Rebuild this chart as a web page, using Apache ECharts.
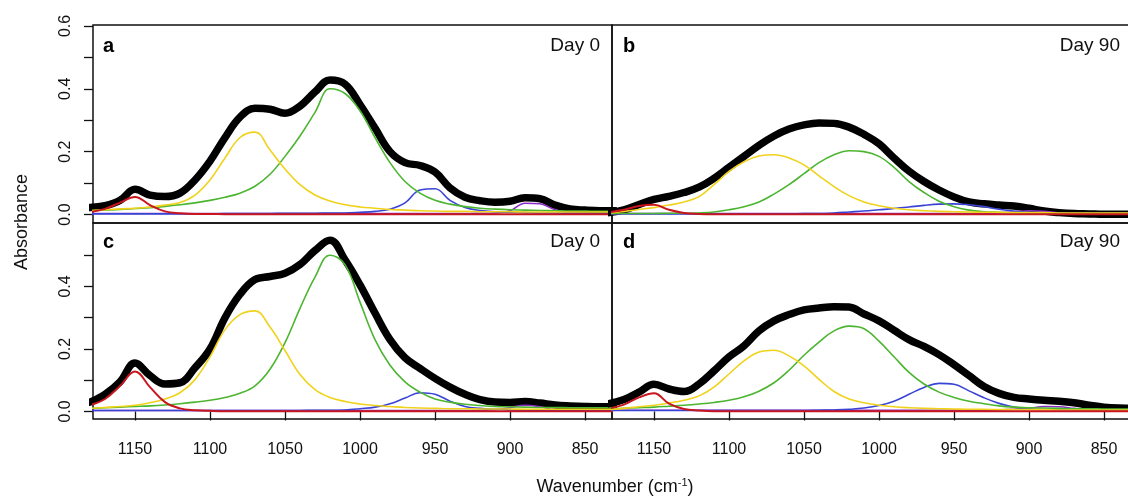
<!DOCTYPE html>
<html>
<head>
<meta charset="utf-8">
<script src="https://cdn.jsdelivr.net/npm/echarts@6/dist/echarts.min.js"></script>
<style>
  html, body { margin: 0; padding: 0; background: #fff; overflow: hidden; }
  #chart { width: 1136px; height: 497px; }
</style>
</head>
<body>
<div id="chart"></div>
<script>
// wavenumber grid (cm-1), shared by every curve
var wavenumber = [1180, 1170, 1160, 1150, 1140, 1130, 1120, 1110, 1100, 1090, 1080, 1070,
  1060, 1050, 1040, 1030, 1020, 1010, 1000, 990, 980, 970, 960, 950,
  940, 930, 920, 910, 900, 890, 880, 870, 860, 850, 840, 830]

var xTicks = [1150, 1100, 1050, 1000, 950, 900, 850]
var yTicksTop = [0, 0.1, 0.2, 0.3, 0.4, 0.5, 0.6]
var yLabelsTop = [0, 0.2, 0.4, 0.6]
var yTicksBottom = [0, 0.1, 0.2, 0.3, 0.4, 0.5]
var yLabelsBottom = [0, 0.2, 0.4]

// panel a - Day 0
var aBlack = [0.022, 0.028, 0.045, 0.08, 0.062, 0.057, 0.068, 0.11, 0.17, 0.245, 0.31, 0.338,
  0.335, 0.322, 0.345, 0.39, 0.428, 0.415, 0.35, 0.275, 0.2, 0.165, 0.156, 0.135,
  0.085, 0.055, 0.044, 0.039, 0.042, 0.053, 0.05, 0.03, 0.018, 0.014, 0.012, 0.012]
var aRed = [0.008, 0.018, 0.038, 0.056, 0.03, 0.01, 0.004, 0.002, 0.002, 0.001, 0.001, 0.001,
  0.001, 0.001, 0.001, 0.001, 0.001, 0.001, 0.001, 0.001, 0.001, 0.001, 0.001, 0.001,
  0.001, 0.001, 0.001, 0.001, 0.001, 0.001, 0.001, 0.001, 0.001, 0.001, 0.001, 0.001]
var aYellow = [0.012, 0.015, 0.018, 0.02, 0.024, 0.03, 0.038, 0.062, 0.11, 0.18, 0.245, 0.262,
  0.205, 0.145, 0.095, 0.062, 0.043, 0.031, 0.024, 0.02, 0.016, 0.014, 0.012, 0.011,
  0.01, 0.01, 0.009, 0.009, 0.009, 0.008, 0.008, 0.008, 0.008, 0.008, 0.008, 0.008]
var aGreen = [0.012, 0.014, 0.016, 0.019, 0.022, 0.026, 0.031, 0.037, 0.045, 0.055, 0.068, 0.09,
  0.128, 0.185, 0.25, 0.325, 0.4, 0.385, 0.33, 0.245, 0.165, 0.105, 0.068, 0.045,
  0.033, 0.025, 0.02, 0.017, 0.015, 0.014, 0.013, 0.012, 0.011, 0.011, 0.01, 0.01]
var aBlue = [0.002, 0.002, 0.002, 0.002, 0.002, 0.002, 0.002, 0.002, 0.002, 0.003, 0.003, 0.003,
  0.003, 0.004, 0.004, 0.004, 0.005, 0.005, 0.007, 0.01, 0.017, 0.037, 0.078, 0.082,
  0.045, 0.022, 0.013, 0.009, 0.007, 0.006, 0.005, 0.005, 0.004, 0.004, 0.004, 0.004]
var aPurple = [0.003, 0.003, 0.003, 0.003, 0.003, 0.003, 0.003, 0.003, 0.003, 0.003, 0.003, 0.003,
  0.003, 0.003, 0.003, 0.003, 0.003, 0.003, 0.003, 0.003, 0.003, 0.003, 0.003, 0.003,
  0.003, 0.003, 0.004, 0.005, 0.012, 0.036, 0.034, 0.015, 0.006, 0.004, 0.003, 0.003]

// panel b - Day 90
var bBlack = [0.006, 0.015, 0.032, 0.048, 0.058, 0.07, 0.087, 0.115, 0.15, 0.185, 0.22, 0.25,
  0.272, 0.285, 0.291, 0.29, 0.278, 0.255, 0.225, 0.18, 0.138, 0.105, 0.078, 0.056,
  0.04, 0.034, 0.03, 0.027, 0.02, 0.011, 0.006, 0.003, 0.002, 0.001, 0.001, 0.001]
var bRed = [0.007, 0.015, 0.027, 0.031, 0.015, 0.005, 0.002, 0.001, 0.001, 0.001, 0.001, 0.001,
  0.001, 0.001, 0.001, 0.001, 0.001, 0.001, 0.001, 0.001, 0.001, 0.001, 0.001, 0.001,
  0.001, 0.001, 0.001, 0.001, 0.001, 0.001, 0.001, 0.001, 0.001, 0.001, 0.001, 0.001]
var bYellow = [0.004, 0.01, 0.016, 0.022, 0.03, 0.04, 0.057, 0.095, 0.137, 0.168, 0.186, 0.19,
  0.18, 0.158, 0.123, 0.089, 0.06, 0.04, 0.028, 0.02, 0.015, 0.012, 0.01, 0.009,
  0.008, 0.007, 0.007, 0.006, 0.006, 0.006, 0.005, 0.005, 0.005, 0.005, 0.005, 0.005]
var bGreen = [0.003, 0.003, 0.003, 0.003, 0.004, 0.004, 0.005, 0.008, 0.015, 0.025, 0.04, 0.065,
  0.095, 0.13, 0.165, 0.19, 0.203, 0.2, 0.185, 0.15, 0.105, 0.07, 0.042, 0.025,
  0.014, 0.009, 0.007, 0.005, 0.004, 0.004, 0.003, 0.003, 0.003, 0.003, 0.003, 0.003]
var bBlue = [0.002, 0.002, 0.002, 0.002, 0.002, 0.002, 0.002, 0.002, 0.002, 0.002, 0.002, 0.002,
  0.002, 0.003, 0.003, 0.005, 0.008, 0.011, 0.015, 0.019, 0.024, 0.029, 0.033, 0.034,
  0.031, 0.025, 0.017, 0.011, 0.007, 0.005, 0.004, 0.003, 0.003, 0.003, 0.003, 0.003]
var bPurple = [0.003, 0.003, 0.003, 0.003, 0.003, 0.003, 0.003, 0.003, 0.003, 0.003, 0.003, 0.003,
  0.003, 0.003, 0.003, 0.003, 0.003, 0.003, 0.003, 0.003, 0.003, 0.003, 0.003, 0.003,
  0.003, 0.004, 0.005, 0.008, 0.012, 0.01, 0.005, 0.003, 0.003, 0.003, 0.003, 0.003]

// panel c - Day 0
var cBlack = [0.03, 0.055, 0.095, 0.155, 0.115, 0.088, 0.092, 0.14, 0.2, 0.3, 0.375, 0.422,
  0.432, 0.442, 0.47, 0.515, 0.548, 0.485, 0.405, 0.315, 0.23, 0.172, 0.138, 0.106,
  0.078, 0.055, 0.038, 0.03, 0.029, 0.032, 0.027, 0.021, 0.018, 0.016, 0.015, 0.015]
var cRed = [0.02, 0.04, 0.082, 0.128, 0.078, 0.03, 0.01, 0.004, 0.002, 0.001, 0.001, 0.001,
  0.001, 0.001, 0.001, 0.001, 0.001, 0.001, 0.001, 0.001, 0.001, 0.001, 0.001, 0.001,
  0.001, 0.001, 0.001, 0.001, 0.001, 0.001, 0.001, 0.001, 0.001, 0.001, 0.001, 0.001]
var cYellow = [0.01, 0.013, 0.016, 0.02, 0.028, 0.04, 0.06, 0.102, 0.175, 0.262, 0.31, 0.322,
  0.27, 0.195, 0.118, 0.07, 0.045, 0.032, 0.024, 0.019, 0.016, 0.013, 0.011, 0.01,
  0.009, 0.009, 0.008, 0.008, 0.008, 0.007, 0.007, 0.007, 0.007, 0.007, 0.007, 0.007]
var cGreen = [0.01, 0.012, 0.014, 0.016, 0.018, 0.021, 0.025, 0.03, 0.036, 0.045, 0.058, 0.082,
  0.135, 0.22, 0.33, 0.43, 0.5, 0.47, 0.35, 0.23, 0.148, 0.095, 0.062, 0.04,
  0.03, 0.023, 0.019, 0.016, 0.015, 0.014, 0.013, 0.013, 0.012, 0.012, 0.012, 0.012]
var cBlue = [0.003, 0.003, 0.003, 0.003, 0.003, 0.003, 0.003, 0.003, 0.003, 0.003, 0.003, 0.003,
  0.003, 0.003, 0.003, 0.004, 0.004, 0.005, 0.009, 0.014, 0.025, 0.043, 0.06, 0.055,
  0.033, 0.016, 0.01, 0.007, 0.005, 0.004, 0.004, 0.004, 0.004, 0.004, 0.004, 0.004]
var cPurple = [0.003, 0.003, 0.003, 0.003, 0.003, 0.003, 0.003, 0.003, 0.003, 0.003, 0.003, 0.003,
  0.003, 0.003, 0.003, 0.003, 0.003, 0.003, 0.003, 0.003, 0.003, 0.003, 0.003, 0.003,
  0.003, 0.003, 0.004, 0.006, 0.012, 0.02, 0.015, 0.006, 0.004, 0.003, 0.003, 0.003]

// panel d - Day 90
var dBlack = [0.025, 0.038, 0.062, 0.087, 0.072, 0.064, 0.088, 0.13, 0.175, 0.21, 0.258, 0.29,
  0.31, 0.325, 0.331, 0.335, 0.334, 0.312, 0.29, 0.26, 0.23, 0.208, 0.182, 0.15,
  0.115, 0.08, 0.058, 0.045, 0.04, 0.036, 0.033, 0.028, 0.02, 0.014, 0.011, 0.01]
var dRed = [0.01, 0.022, 0.045, 0.058, 0.025, 0.008, 0.003, 0.001, 0.001, 0.001, 0.001, 0.001,
  0.001, 0.001, 0.001, 0.001, 0.001, 0.001, 0.001, 0.001, 0.001, 0.001, 0.001, 0.001,
  0.001, 0.001, 0.001, 0.001, 0.001, 0.001, 0.001, 0.001, 0.001, 0.001, 0.001, 0.001]
var dYellow = [0.006, 0.01, 0.015, 0.02, 0.027, 0.036, 0.05, 0.078, 0.12, 0.162, 0.19, 0.196,
  0.178, 0.146, 0.103, 0.064, 0.04, 0.028, 0.02, 0.015, 0.012, 0.01, 0.009, 0.008,
  0.007, 0.007, 0.006, 0.006, 0.006, 0.006, 0.005, 0.005, 0.005, 0.005, 0.005, 0.005]
var dGreen = [0.008, 0.01, 0.012, 0.014, 0.017, 0.02, 0.024, 0.029, 0.036, 0.047, 0.065, 0.092,
  0.132, 0.18, 0.222, 0.258, 0.273, 0.265, 0.225, 0.175, 0.125, 0.088, 0.062, 0.045,
  0.033, 0.025, 0.018, 0.014, 0.012, 0.011, 0.01, 0.009, 0.009, 0.008, 0.008, 0.008]
var dBlue = [0.003, 0.003, 0.003, 0.003, 0.003, 0.003, 0.003, 0.003, 0.003, 0.003, 0.003, 0.003,
  0.003, 0.003, 0.004, 0.005, 0.007, 0.011, 0.019, 0.033, 0.055, 0.077, 0.09, 0.087,
  0.066, 0.044, 0.026, 0.014, 0.008, 0.007, 0.006, 0.005, 0.005, 0.005, 0.005, 0.005]
var dPurple = [0.004, 0.004, 0.004, 0.004, 0.004, 0.004, 0.004, 0.004, 0.004, 0.004, 0.004, 0.004,
  0.004, 0.004, 0.004, 0.004, 0.004, 0.004, 0.004, 0.004, 0.004, 0.004, 0.004, 0.004,
  0.004, 0.004, 0.005, 0.007, 0.01, 0.016, 0.015, 0.01, 0.005, 0.004, 0.004, 0.004]

var panels = [
  { letter: 'a', day: 'Day 0', curves: [aBlack, aPurple, aBlue, aGreen, aYellow, aRed] },
  { letter: 'b', day: 'Day 90', curves: [bBlack, bPurple, bBlue, bGreen, bYellow, bRed] },
  { letter: 'c', day: 'Day 0', curves: [cBlack, cPurple, cBlue, cGreen, cYellow, cRed] },
  { letter: 'd', day: 'Day 90', curves: [dBlack, dPurple, dBlue, dGreen, dYellow, dRed] }
]
var curveColors = ['#000000', '#8a2cc8', '#3a44d4', '#4cb530', '#f0d21a', '#c8161e']
var curveWidths = [7.5, 1.6, 1.6, 1.6, 1.6, 2]

var FONT = 'Liberation Sans, Arial, Helvetica, sans-serif'
var myChart = echarts.init(document.getElementById('chart'))

// grid boxes: left column / right column, top row / bottom row
// (right column runs a few px past the 1128 px window, as in the source figure)
var gridBoxes = [
  { left: 93, top: 25, width: 519, height: 198 },
  { left: 612, top: 25, width: 519, height: 198 },
  { left: 93, top: 223, width: 519, height: 196 },
  { left: 612, top: 223, width: 519, height: 196 }
]

var grids = []
var xAxes = []
var yAxes = []
var series = []
var graphics = []

panels.forEach(function (p, i) {
  var isLeft = (i % 2 === 0)
  var isBottom = (i >= 2)
  var box = gridBoxes[i]
  grids.push({
    left: box.left, top: box.top, width: box.width, height: box.height,
    show: true, borderColor: '#111', borderWidth: 1.5, backgroundColor: 'transparent'
  })
  xAxes.push({
    gridIndex: i, type: 'value', min: 832, max: 1178, inverse: true,
    axisLine: { show: false }, splitLine: { show: false },
    axisTick: { show: isBottom, customValues: xTicks, length: 9, lineStyle: { color: '#111', width: 1.3 } },
    axisLabel: {
      show: isBottom, customValues: xTicks, margin: 23, fontSize: 16, color: '#111', fontFamily: FONT,
      formatter: function (v) { return String(v) }
    }
  })
  yAxes.push({
    gridIndex: i, type: 'value', show: isLeft,
    min: isBottom ? -0.024 : -0.027, max: 0.603,
    axisLine: { show: false }, splitLine: { show: false },
    axisTick: { show: true, customValues: isBottom ? yTicksBottom : yTicksTop, length: 9, lineStyle: { color: '#111', width: 1.3 } },
    axisLabel: {
      customValues: isBottom ? yLabelsBottom : yLabelsTop,
      rotate: 90, margin: 19, fontSize: 16, color: '#111', fontFamily: FONT,
      formatter: function (v) { return Number(v).toFixed(1) }
    }
  })
  p.curves.forEach(function (arr, k) {
    series.push({
      type: 'line', xAxisIndex: i, yAxisIndex: i,
      data: wavenumber.map(function (w, j) { return [w, arr[j]] }),
      smooth: 0.4, showSymbol: false, silent: true, clip: true,
      lineStyle: { color: curveColors[k], width: curveWidths[k], cap: 'round', join: 'round' }
    })
  })
  var letterX = isLeft ? 103 : 623
  var dayX = isLeft ? 600 : 1120
  var rowY = isBottom ? 242 : 46
  graphics.push({
    type: 'text', x: letterX, y: rowY,
    style: { text: p.letter, font: 'bold 20px ' + FONT, fill: '#000', align: 'left', verticalAlign: 'middle' }
  })
  graphics.push({
    type: 'text', x: dayX, y: rowY,
    style: { text: p.day, font: '19px ' + FONT, fill: '#111', align: 'right', verticalAlign: 'middle' }
  })
})

graphics.push({
  type: 'text', x: 22, y: 222, rotation: Math.PI / 2,
  style: { text: 'Absorbance', font: '18px ' + FONT, fill: '#111', align: 'center', verticalAlign: 'middle' }
})
graphics.push({
  type: 'text', x: 615, y: 487,
  style: {
    text: 'Wavenumber (cm{s|-1})', font: '18px ' + FONT, fill: '#111', align: 'center', verticalAlign: 'middle',
    rich: { s: { fontSize: 11, fontFamily: FONT, fill: '#111', padding: [0, 0, 9, 0] } }
  }
})

const option = {
  animation: false,
  backgroundColor: '#fff',
  grid: grids,
  xAxis: xAxes,
  yAxis: yAxes,
  series: series,
  graphic: graphics
}
myChart.setOption(option)
</script>
</body>
</html>
